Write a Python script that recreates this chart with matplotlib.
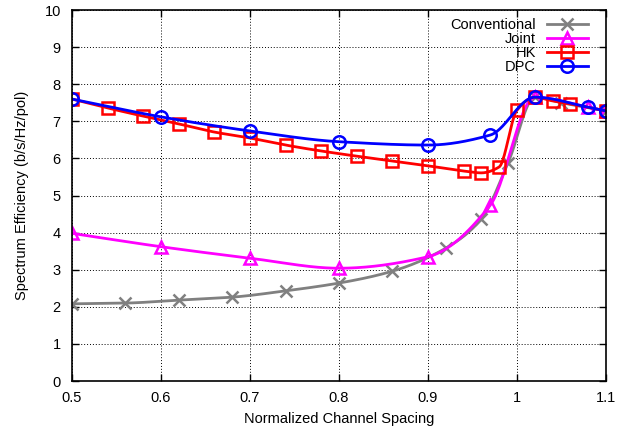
import numpy as np
import matplotlib.pyplot as plt

plt.rcParams['font.family'] = ['Liberation Sans', 'DejaVu Sans']

# data
conv_x = [0.50, 0.56, 0.62, 0.68, 0.74, 0.80, 0.86, 0.92, 0.96, 0.99, 1.02, 1.05, 1.10]
conv_y = [2.08, 2.10, 2.18, 2.26, 2.43, 2.64, 2.96, 3.58, 4.37, 5.88, 7.65, 7.50, 7.28]

joint_x = [0.50, 0.60, 0.70, 0.80, 0.90, 0.97, 1.02, 1.08, 1.10]
joint_y = [3.98, 3.62, 3.31, 3.04, 3.35, 4.74, 7.65, 7.38, 7.28]

hk_x = [0.50, 0.54, 0.58, 0.62, 0.66, 0.70, 0.74, 0.78, 0.82, 0.86, 0.90,
        0.94, 0.96, 0.98, 1.00, 1.02, 1.04, 1.06, 1.10]
hk_y = [7.60, 7.36, 7.14, 6.93, 6.71, 6.55, 6.36, 6.20, 6.06, 5.93, 5.80,
        5.66, 5.61, 5.77, 7.30, 7.65, 7.55, 7.47, 7.28]

dpc_x = [0.50, 0.60, 0.70, 0.80, 0.90, 0.97, 1.02, 1.08, 1.10]
dpc_y = [7.60, 7.12, 6.74, 6.45, 6.36, 6.63, 7.65, 7.38, 7.28]

x_ticks = [0.5, 0.6, 0.7, 0.8, 0.9, 1.0, 1.1]
x_labels = ['0.5', '0.6', '0.7', '0.8', '0.9', '1', '1.1']
y_ticks = list(range(0, 11))


def smooth_path(x, y, n=600):
    # monotone cubic (pchip) through the data, only for the drawn line
    x = np.asarray(x, float)
    y = np.asarray(y, float)
    h = np.diff(x)
    d = np.diff(y) / h
    k = len(x)
    m = np.zeros(k)
    for i in range(1, k - 1):
        if d[i - 1] * d[i] > 0:
            w1 = 2 * h[i] + h[i - 1]
            w2 = h[i] + 2 * h[i - 1]
            m[i] = (w1 + w2) / (w1 / d[i - 1] + w2 / d[i])
    m[0] = d[0]
    m[-1] = d[-1]
    xs = np.linspace(x[0], x[-1], n)
    idx = np.clip(np.searchsorted(x, xs) - 1, 0, k - 2)
    hh = h[idx]
    t = (xs - x[idx]) / hh
    h00 = 2 * t ** 3 - 3 * t ** 2 + 1
    h10 = t ** 3 - 2 * t ** 2 + t
    h01 = -2 * t ** 3 + 3 * t ** 2
    h11 = t ** 3 - t ** 2
    ys = h00 * y[idx] + h10 * hh * m[idx] + h01 * y[idx + 1] + h11 * hh * m[idx + 1]
    return xs, ys


series = [
    ('Conventional', conv_x, conv_y, '#808080', 'x'),
    ('Joint', joint_x, joint_y, '#ff00ff', '^'),
    ('HK', hk_x, hk_y, '#ff0000', 's'),
    ('DPC', dpc_x, dpc_y, '#0000ff', 'o'),
]

fig = plt.figure(figsize=(6.33, 4.28), dpi=100)
ax = fig.add_axes([0.1137, 0.1098, 0.8436, 0.8668])

for name, xs, ys, color, marker in series:
    sx, sy = smooth_path(xs, ys)
    ax.plot(sx, sy, color=color, lw=2)
    ax.plot(xs, ys, ls='none', marker=marker, ms=9, mfc='none', mec=color, mew=1.8)
    # legend proxy
    ax.plot([], [], color=color, lw=2, marker=marker, ms=9, mfc='none', mec=color,
            mew=1.8, label=name)

ax.set_xlim(0.5, 1.1)
ax.set_ylim(0, 10)
ax.set_xticks(x_ticks)
ax.set_xticklabels(x_labels)
ax.set_yticks(y_ticks)
ax.tick_params(direction='in', top=True, right=True, labelsize=10.5, length=5, width=1)
ax.tick_params(axis='x', pad=7)
ax.tick_params(axis='y', pad=8)
ax.grid(True, color='black', ls=(0, (1, 2)), lw=0.7)
for sp in ax.spines.values():
    sp.set_linewidth(1.2)

ax.set_xlabel('Normalized Channel Spacing', fontsize=10.5, labelpad=5)
ax.set_ylabel('Spectrum Efficiency (b/s/Hz/pol)', fontsize=10.5, labelpad=11)

leg = ax.legend(loc='upper right', bbox_to_anchor=(0.966, 0.978), frameon=False,
                markerfirst=False, fontsize=10.5, handlelength=2.8,
                labelspacing=0.0, borderaxespad=0, borderpad=0,
                handletextpad=0.75)
for t in leg.get_texts():
    t.set_ha('right')

fig.savefig('out.png', dpi=100)
